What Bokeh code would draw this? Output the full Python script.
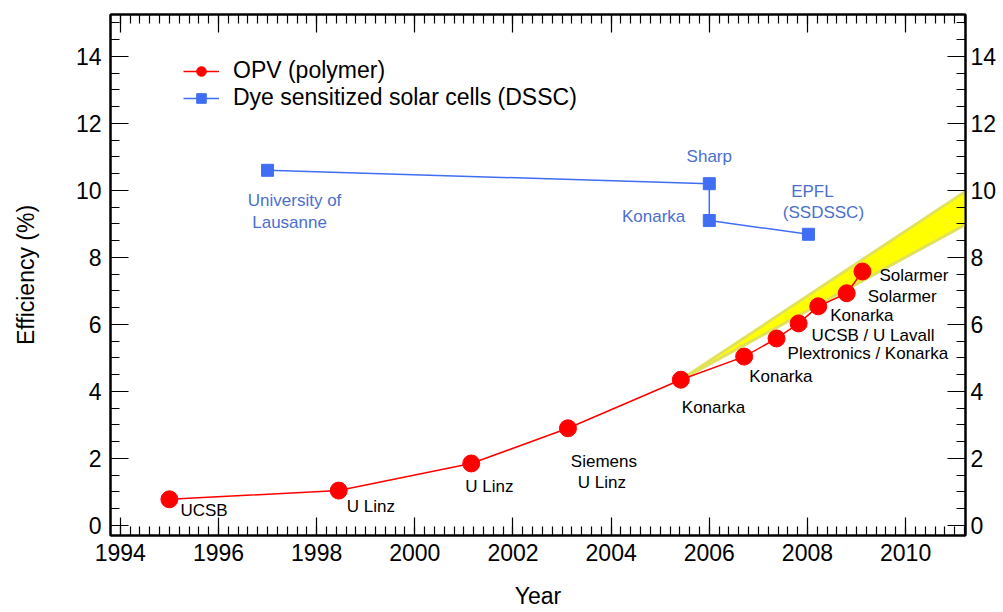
from bokeh.plotting import figure
from bokeh.models import (Range1d, LinearAxis, SingleIntervalTicker, Legend,
                          LegendItem, Label, CustomLabelingPolicy)
from bokeh.embed import file_html
from bokeh.resources import INLINE

# ---------------- data ----------------
opv_year = [1995.0, 1998.45, 2001.15, 2003.12, 2005.42, 2006.71, 2007.37,
            2007.82, 2008.22, 2008.8, 2009.12]
opv_eff = [0.78, 1.04, 1.85, 2.9, 4.35, 5.04, 5.58, 6.03, 6.54, 6.93, 7.58]
opv_labels = ["UCSB", "U Linz", "U Linz", "Siemens\nU Linz", "Konarka",
              "Konarka", "Plextronics / Konarka", "UCSB / U Lavall",
              "Konarka", "Solarmer", "Solarmer"]

dssc_year = [1997.0, 2006.0, 2006.0, 2008.02]
dssc_eff = [10.6, 10.2, 9.1, 8.69]
dssc_labels = ["University of\nLausanne", "Sharp", "Konarka", "EPFL\n(SSDSSC)"]

band_year = [2005.42, 2011.22, 2011.22]
band_eff = [4.35, 9.97, 8.98]

x_title = "Year"
y_title = "Efficiency (%)"
series_names = ["OPV (polymer)", "Dye sensitized solar cells (DSSC)"]

# ---------------- styles ----------------
FONT = "Liberation Sans"
RED = "#ff0000"
BLUE = "#3f6ef5"
BLUE_TXT = "#4b6fcf"

# pixel offsets for annotation lines: per label, list of (dx, dy) per line, align
opv_off = [([(11, -11)], "left"), ([(8, -16)], "left"), ([(-6, -23)], "left"),
           ([(36, -33), (34, -54)], "center"), ([(1, -28)], "left"),
           ([(5, -20)], "left"), ([(11, -15)], "left"), ([(13, -12)], "left"),
           ([(12, -9)], "left"), ([(21, -3)], "left"), ([(17, -4)], "left")]
dssc_off = [([(27, -30), (22, -52)], "center"), ([(0, 27)], "center"),
            ([(-24, 4)], "right"), ([(4, 43), (15, 22)], "center")]

p = figure(width=1002, height=611,
           x_range=Range1d(1993.8, 2011.22), y_range=Range1d(-0.3, 15.25),
           output_backend="svg", toolbar_location=None,
           min_border_left=110, min_border_right=37, min_border_top=14,
           min_border_bottom=76, x_axis_location=None, y_axis_location=None)
p.xgrid.visible = False
p.ygrid.visible = False
p.outline_line_color = "black"
p.outline_line_width = 2

no_labels = CustomLabelingPolicy(code="""
    for (const i of Array.from(indices)) indices.unset(i)
    return indices
""")


def style_axis(ax, labels=True, ticker=None):
    ax.ticker = ticker
    ax.major_tick_in = 18
    ax.major_tick_out = 0
    ax.minor_tick_in = 9
    ax.minor_tick_out = 0
    ax.major_tick_line_width = 1.2
    ax.minor_tick_line_width = 1.2
    ax.major_tick_line_color = "black"
    ax.minor_tick_line_color = "black"
    ax.axis_line_width = 2
    ax.axis_line_color = "black"
    ax.major_label_text_font = FONT
    ax.major_label_text_color = "black"
    ax.axis_label_text_font = FONT
    ax.axis_label_text_font_style = "normal"
    ax.axis_label_text_color = "black"
    if labels:
        ax.major_label_text_font_size = "23px"
        ax.axis_label_text_font_size = "23px"
    else:
        ax.major_label_text_font_size = "1px"
        ax.major_label_standoff = 0
        ax.major_label_policy = no_labels


xt = lambda: SingleIntervalTicker(interval=2, num_minor_ticks=10)
yt = lambda: SingleIntervalTicker(interval=2, num_minor_ticks=4)

xb = LinearAxis(axis_label=x_title)
style_axis(xb, True, xt())
xb.major_label_standoff = 8
xb.axis_label_standoff = 19
p.add_layout(xb, "below")

xa = LinearAxis()
style_axis(xa, False, xt())
p.add_layout(xa, "above")

yl = LinearAxis(axis_label=y_title)
style_axis(yl, True, yt())
yl.major_label_standoff = 9
yl.axis_label_standoff = 34
p.add_layout(yl, "left")

yr = LinearAxis()
style_axis(yr, True, yt())
yr.major_label_standoff = 5
p.add_layout(yr, "right")

# yellow projection band
p.patch(band_year, band_eff, fill_color="#ffff00", line_color="#e2e25a",
        line_width=3, line_join="round")

# series
r_ol = p.line(opv_year, opv_eff, line_color=RED, line_width=1.5)
r_oc = p.scatter(opv_year, opv_eff, marker="circle", size=17,
                 fill_color=RED, line_color=RED)
r_dl = p.line(dssc_year, dssc_eff, line_color=BLUE, line_width=1.5)
r_ds = p.scatter(dssc_year, dssc_eff, marker="square", size=12,
                 fill_color=BLUE, line_color=BLUE)


def annotate(xs, ys, labels, offs, color):
    for x, y, lab, (lines_off, align) in zip(xs, ys, labels, offs):
        for line, (dx, dy) in zip(lab.split("\n"), lines_off):
            p.add_layout(Label(x=x, y=y, x_offset=dx, y_offset=dy, text=line,
                               text_align=align, text_baseline="middle",
                               text_font=FONT, text_font_size="17px",
                               text_color=color))


annotate(opv_year, opv_eff, opv_labels, opv_off, "black")
annotate(dssc_year, dssc_eff, dssc_labels, dssc_off, BLUE_TXT)

legend = Legend(items=[LegendItem(label=series_names[0], renderers=[r_ol, r_oc]),
                       LegendItem(label=series_names[1], renderers=[r_dl, r_ds])],
                location=(73, 424), orientation="vertical",
                label_text_font=FONT, label_text_font_size="23px",
                label_text_color="black", glyph_width=36, glyph_height=24,
                label_height=24, label_standoff=14, spacing=0, padding=0,
                margin=0, border_line_alpha=0, background_fill_alpha=0)
p.add_layout(legend)

open("out.html", "w").write(file_html(p, INLINE))
